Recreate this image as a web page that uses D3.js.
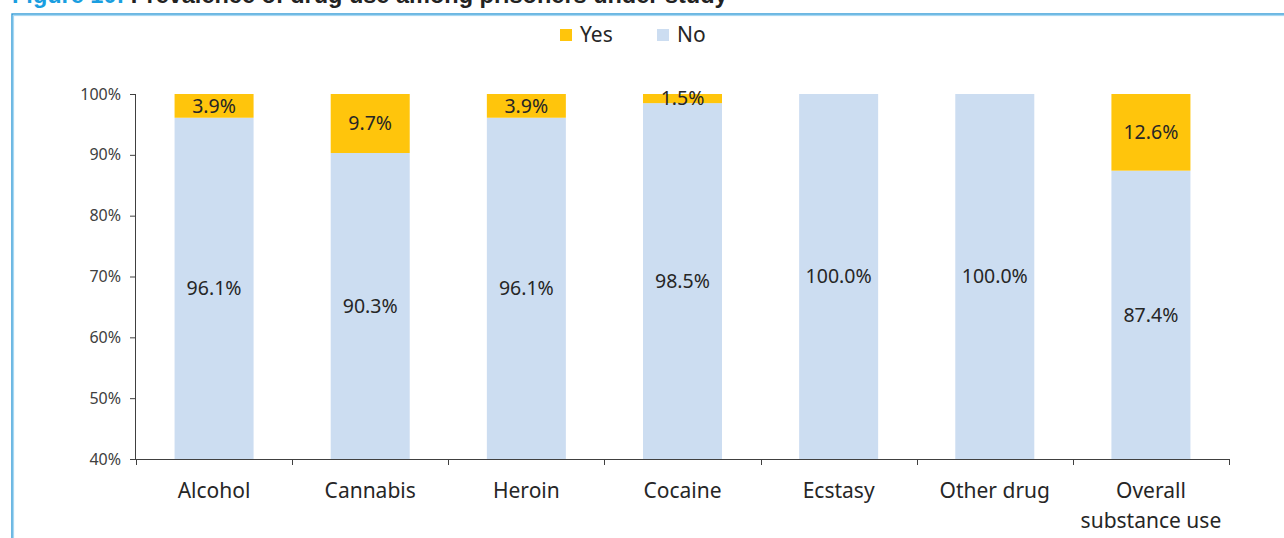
<!DOCTYPE html>
<html>
<head>
<meta charset="utf-8">
<script src="https://cdn.jsdelivr.net/npm/d3@7"></script>
<style>
  html, body { margin: 0; padding: 0; background: #fff; overflow: hidden; }
  svg { display: block; }
</style>
</head>
<body>
<svg id="chart" width="1284" height="538"></svg>
<script>
const categories = ["Alcohol", "Cannabis", "Heroin", "Cocaine", "Ecstasy", "Other drug", "Overall\nsubstance use"];
const yesValues = [3.9, 9.7, 3.9, 1.5, 0, 0, 12.6];
const noValues = [96.1, 90.3, 96.1, 98.5, 100.0, 100.0, 87.4];
const yTicks = [40, 50, 60, 70, 80, 90, 100];
const seriesNames = ["Yes", "No"];
const seriesColors = ["#FFC50C", "#CCDDF1"];

(function () {
const svg = d3.select("#chart");
const font = "'Noto Sans', 'Open Sans', sans-serif";

// Title (clipped at top like the reference)
const title = svg.append("text").attr("x", 12).attr("y", 3)
  .attr("font-family", "'Liberation Sans', Arial, sans-serif")
  .attr("font-weight", "bold").attr("font-size", 23.5);
title.append("tspan").attr("fill", "#1a9ee0").text("Figure 10: ");
title.append("tspan").attr("fill", "#222").text("Prevalence of drug use among prisoners under study");

// Frame
svg.append("rect").attr("x", 12).attr("y", 14).attr("width", 1300).attr("height", 560)
  .attr("fill", "none").attr("stroke", "#2f9ad6").attr("stroke-width", 1.4);
svg.append("rect").attr("x", 13.5).attr("y", 15.5).attr("width", 1300).attr("height", 560)
  .attr("fill", "none").attr("stroke", "#a8d8f2").attr("stroke-width", 1.2);

const mLeft = 136, mRight = 1229, mTop = 94, mBottom = 459;

const x = d3.scaleBand().domain(categories).range([mLeft, mRight]).paddingInner(0).paddingOuter(0);
const y = d3.scaleLinear().domain([40, 100]).range([mBottom, mTop]);
const barW = x.bandwidth() * 0.506;
const bx = c => x(c) + (x.bandwidth() - barW) / 2;

const data = categories.map((c, i) => ({ cat: c, yes: yesValues[i], no: noValues[i] }));

// No bars
svg.append("g").selectAll("rect").data(data).join("rect")
  .attr("x", d => bx(d.cat)).attr("width", barW)
  .attr("y", d => y(d.no)).attr("height", d => y(40) - y(d.no))
  .attr("fill", seriesColors[1]);

// Yes bars
svg.append("g").selectAll("rect").data(data.filter(d => d.yes > 0)).join("rect")
  .attr("x", d => bx(d.cat)).attr("width", barW)
  .attr("y", d => y(d.no + d.yes)).attr("height", d => y(d.no) - y(d.no + d.yes))
  .attr("fill", seriesColors[0]);

// Labels
const lab = svg.append("g").attr("font-family", font).attr("font-size", 19.5)
  .attr("fill", "#262626").attr("text-anchor", "middle");
lab.selectAll("text.no").data(data).join("text").attr("class", "no")
  .attr("x", d => x(d.cat) + x.bandwidth() / 2)
  .attr("y", d => y((40 + d.no) / 2)).attr("dy", "0.35em")
  .text(d => d.no.toFixed(1) + "%");
lab.selectAll("text.yes").data(data.filter(d => d.yes > 0)).join("text").attr("class", "yes")
  .attr("x", d => x(d.cat) + x.bandwidth() / 2)
  .attr("y", d => y(d.no + d.yes / 2)).attr("dy", "0.35em")
  .text(d => d.yes.toFixed(1) + "%");

// Y axis
const yAxis = svg.append("g").attr("transform", `translate(${mLeft},0)`)
  .call(d3.axisLeft(y).tickValues(yTicks).tickSize(6).tickPadding(9).tickFormat(d => d + "%"));
yAxis.select(".domain").attr("stroke", "#404040").attr("d", `M-0.5,${mTop}V${mBottom}`);
yAxis.selectAll(".tick line").attr("stroke", "#404040");
yAxis.selectAll("text").attr("font-family", font).attr("font-size", 16).attr("fill", "#404040");

// X axis
const xAxisG = svg.append("g").attr("transform", `translate(0,${mBottom})`);
xAxisG.append("line").attr("x1", mLeft).attr("x2", mRight).attr("y1", 0.5).attr("y2", 0.5).attr("stroke", "#404040");
const bounds = categories.map(c => x(c)).concat([mRight]);
xAxisG.selectAll("line.t").data(bounds).join("line").attr("class", "t")
  .attr("x1", d => Math.round(d) + 0.5).attr("x2", d => Math.round(d) + 0.5)
  .attr("y1", 0).attr("y2", 6).attr("stroke", "#404040");
const xl = xAxisG.selectAll("text").data(categories).join("text")
  .attr("x", c => x(c) + x.bandwidth() / 2).attr("y", 39)
  .attr("text-anchor", "middle").attr("font-family", font).attr("font-size", 21).attr("fill", "#262626");
xl.each(function(c) {
  const lines = c.split("\n");
  d3.select(this).selectAll("tspan").data(lines).join("tspan")
    .attr("x", x(c) + x.bandwidth() / 2).attr("dy", (d, i) => i === 0 ? 0 : 30).text(d => d);
});

// Legend
const legend = svg.append("g").attr("font-family", font).attr("font-size", 21).attr("fill", "#262626");
const legX = [560, 657];
seriesNames.forEach((n, i) => {
  legend.append("rect").attr("x", legX[i]).attr("y", 29).attr("width", 12).attr("height", 12).attr("fill", seriesColors[i]);
  legend.append("text").attr("x", legX[i] + 20).attr("y", 42).text(n);
});
})();
</script>
</body>
</html>
